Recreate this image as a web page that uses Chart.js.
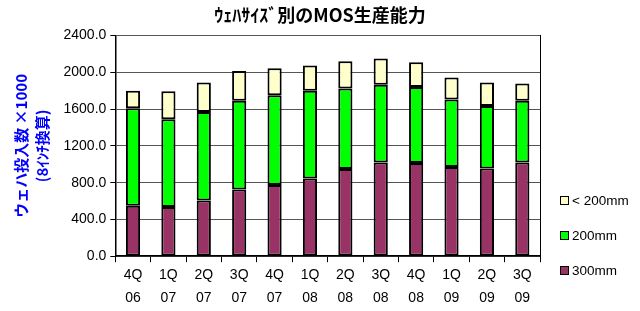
<!DOCTYPE html>
<html>
<head>
<meta charset="utf-8">
<script src="https://cdn.jsdelivr.net/npm/chart.js@4.4.0/dist/chart.umd.min.js"></script>
<style>
  html, body { margin: 0; padding: 0; background: #fff; }
  #wrap { width: 640px; height: 311px; }
</style>
</head>
<body>
<div id="wrap"><canvas id="mosChart"></canvas></div>
<script>
// quarters (two-line tick labels)
const quarters = [
  ["4Q", "06"], ["1Q", "07"], ["2Q", "07"], ["3Q", "07"],
  ["4Q", "07"], ["1Q", "08"], ["2Q", "08"], ["3Q", "08"],
  ["4Q", "08"], ["1Q", "09"], ["2Q", "09"], ["3Q", "09"]
];

// wafer starts x1000 (8-inch equivalent), stacked bottom -> top
const wafer300 = [550, 535, 605, 725, 775, 845, 950, 1020, 1015, 970, 955, 1020];
const wafer200 = [1060, 955, 965, 965, 975, 955, 875, 845, 825, 735, 680, 670];
const waferSmall = [190, 305, 320, 325, 295, 275, 295, 285, 270, 240, 255, 190];

const yTickValues = [0, 400, 800, 1200, 1600, 2000, 2400];

const seriesNames = ["300mm", "200mm", "< 200mm"];
const seriesColors = ["#993366", "#00ff00", "#ffffcc"];

const labelFont = { family: "'Liberation Sans', Arial, sans-serif", size: 14 };

// legend drawn at the right, top item = last dataset
const sideLegend = {
  id: "sideLegend",
  afterDraw(chart) {
    const ctx = chart.ctx;
    ctx.save();
    ctx.font = "13.5px 'Liberation Sans', Arial, sans-serif";
    ctx.textBaseline = "middle";
    ctx.strokeStyle = "#000";
    ctx.lineWidth = 1;
    const sets = chart.data.datasets.slice().reverse();
    sets.forEach((ds, i) => {
      const y = 200 + i * 35;
      ctx.fillStyle = ds.backgroundColor;
      ctx.fillRect(560, y - 4, 8, 8);
      ctx.strokeRect(560.5, y - 3.5, 8, 8);
      ctx.fillStyle = "#000";
      ctx.fillText(ds.label, 572, y + 1);
    });
    ctx.restore();
  }
};

const context = document.getElementById("mosChart").getContext("2d");

new Chart(context, {
  type: "bar",
  data: {
    labels: quarters,
    datasets: [wafer300, wafer200, waferSmall].map((values, i) => ({
      label: seriesNames[i],
      data: values,
      backgroundColor: seriesColors[i],
      borderColor: "#000",
      borderWidth: 2,
      borderSkipped: false,
      barPercentage: 0.4,
      categoryPercentage: 1.0
    }))
  },
  options: {
    responsive: true,
    maintainAspectRatio: false,
    devicePixelRatio: 1,
    animation: false,
    layout: { padding: 0 },
    plugins: {
      legend: { display: false },
      tooltip: { enabled: false },
      title: {
        display: true,
        text: "ｳｪﾊｻｲｽﾞ別のMOS生産能力",
        color: "#000",
        font: { family: "'Noto Sans CJK JP', sans-serif", size: 18, weight: "bold" },
        padding: { top: 4, bottom: 10 }
      }
    },
    scales: {
      x: {
        stacked: true,
        grid: { offset: true, drawOnChartArea: false, tickLength: 6, color: "#000" },
        border: { color: "#000", width: 1.5 },
        ticks: {
          font: { ...labelFont, lineHeight: 1.6 },
          color: "#000", padding: 2, maxRotation: 0, autoSkip: false
        }
      },
      y: {
        stacked: true,
        min: 0,
        max: 2400,
        afterBuildTicks: scale => {
          scale.ticks = yTickValues.map(v => ({ value: v }));
        },
        ticks: { font: labelFont, color: "#000", padding: 4, callback: v => v.toFixed(1) },
        grid: { color: "#555", tickLength: 5, tickColor: "#000" },
        border: { color: "#000", width: 1.5 },
        title: {
          display: true,
          text: ["ウェハ投入数 ×1000", "(8ｲﾝﾁ換算)"],
          color: "#0000ff",
          font: { family: "'Noto Sans CJK JP', sans-serif", size: 15, weight: "bold", lineHeight: 1.45 },
          padding: { top: 10, bottom: 6 }
        }
      },
      // empty right axis: keeps room for the legend and draws the plot's right edge
      edge: {
        type: "linear",
        position: "right",
        grid: { display: false },
        ticks: { display: false },
        border: { display: true, color: "#000", width: 1 },
        afterFit: scale => { scale.width = 100; }
      }
    }
  },
  plugins: [sideLegend]
});
</script>
</body>
</html>
